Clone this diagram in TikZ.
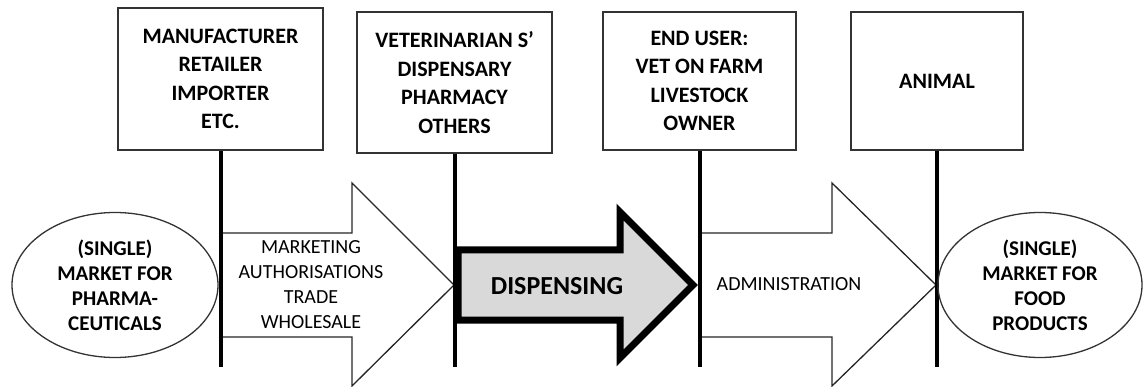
\documentclass[tikz,border=0pt]{standalone}
\usepackage{fontspec}
\setmainfont{Carlito}
\usetikzlibrary{shapes.geometric}
\begin{document}
\begin{tikzpicture}[x=1pt,y=-1pt,
    party/.style={draw=black!80, line width=2pt, align=center, inner sep=0pt,
      font=\bfseries\fontsize{22}{28.5}\selectfont},
    market/.style={draw=black!80, line width=1.3pt, ellipse, align=center, inner sep=0pt,
      font=\bfseries\fontsize{21}{25}\selectfont},
    flow/.style={draw=black!85, line width=1.3pt, fill=white},
    flowtext/.style={align=center, font=\fontsize{20}{25}\selectfont}]
    \useasboundingbox (0,0) rectangle (1143,387);
    \coordinate (base) at (0,367);

    % the three arrows
    \draw[flow] (220,233) -- (352,233) -- (352,183) -- (454,285) -- (352,386) -- (352,337) -- (220,337) -- cycle;
    \draw[flow] (700,233) -- (832,233) -- (832,183) -- (936,285) -- (832,386) -- (832,337) -- (700,337) -- cycle;
    \draw[line width=7pt, fill=black!15, line join=miter] (458,250) -- (620,250) -- (620,212) -- (693,285) -- (620,358) -- (620,320) -- (458,320) -- cycle;

    \node[flowtext] (trade) at (311,285) {MARKETING\\AUTHORISATIONS\\TRADE\\WHOLESALE};
    \node[font=\bfseries\fontsize{26}{30}\selectfont] (dispensing) at (557,286) {DISPENSING};
    \node[flowtext] (admin) at (789,284) {ADMINISTRATION};

    % the parties
    \node[party, minimum width=205, minimum height=142] (maker) at (220.5,79) {MANUFACTURER\\RETAILER\\IMPORTER\\ETC.};
    \node[party, minimum width=195, minimum height=141] (vet) at (454.5,82.5) {VETERINARIAN S’\\DISPENSARY\\PHARMACY\\OTHERS};
    \node[party, minimum width=193, minimum height=138] (user) at (699.5,81) {END USER:\\VET ON FARM\\LIVESTOCK\\OWNER};
    \node[party, minimum width=172, minimum height=138] (animal) at (937,81) {ANIMAL};

    \draw[line width=4pt] (maker.south) -- (maker.south |- base);
    \draw[line width=4pt] (vet.south) -- (vet.south |- base);
    \draw[line width=4pt] (user.south) -- (user.south |- base);
    \draw[line width=4pt] (animal.south) -- (animal.south |- base);

    % the two markets
    \node[market, minimum width=206, minimum height=145] (pharma) at (115,285) {(SINGLE)\\MARKET FOR\\PHARMA-\\CEUTICALS};
    \node[market, minimum width=204, minimum height=145] (food) at (1040,285) {(SINGLE)\\MARKET FOR\\FOOD\\PRODUCTS};
\end{tikzpicture}
\end{document}
